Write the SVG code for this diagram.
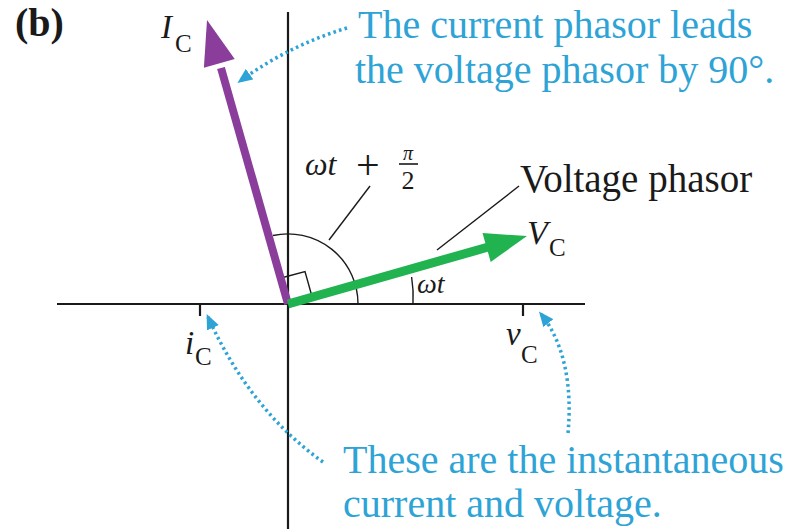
<svg xmlns="http://www.w3.org/2000/svg" width="800" height="529" viewBox="0 0 800 529">
<defs>
<style>
.ax{stroke:#1a1a1a;stroke-width:2.2;fill:none}
.thin{stroke:#1a1a1a;stroke-width:1.4;fill:none}
.dot{stroke:#2ea3d6;stroke-width:3.5;fill:none;stroke-dasharray:2.6 3.2}
.blk{fill:#1a1a1a}
.it{font-style:italic}
.blue{fill:#2ea3d6;font-size:40px}
</style>
<marker id="bh" viewBox="0 0 14 12" refX="11" refY="6" markerWidth="15" markerHeight="13" markerUnits="userSpaceOnUse" orient="auto">
<path d="M0,0 L14,6 L0,12 z" fill="#2ea3d6"/>
</marker>
</defs>
<rect width="800" height="529" fill="#ffffff"/>

<g id="axes">
<line class="ax" x1="288" y1="12" x2="288" y2="529"/>
<line class="ax" x1="57" y1="304" x2="585" y2="304"/>
<line class="ax" x1="200" y1="304" x2="200" y2="316"/>
<line class="ax" x1="523" y1="304" x2="523" y2="316"/>
</g>

<g id="angle-marks">
<path class="thin" d="M358,304 A70,70 0 0 0 273,235.5"/>
<path class="thin" d="M413,304 A125,125 0 0 0 411.6,277"/>
<polyline class="thin" points="281,278 305,271.5 312,296.5"/>
</g>

<g id="current-phasor">
<line x1="288" y1="304" x2="221" y2="68" stroke="#8a3d9a" stroke-width="8"/>
<polygon points="207,20 234.7,58.9 203.9,67.7" fill="#8a3d9a"/>
</g>

<g id="voltage-phasor">
<line x1="288" y1="304" x2="490" y2="246.5" stroke="#21b34f" stroke-width="9"/>
<polygon points="527,236 490.7,261.9 482.5,233.1" fill="#21b34f"/>
</g>

<g id="connectors">
<line class="thin" x1="329" y1="240" x2="370" y2="186"/>
<line class="thin" x1="437" y1="250" x2="519" y2="186"/>
<path class="dot" d="M347,28 Q290,45 240,81" marker-end="url(#bh)"/>
<path class="dot" d="M323,462 Q250,410 208,317" marker-end="url(#bh)"/>
<path class="dot" d="M568,433 C572,390 566,345 541,314" marker-end="url(#bh)"/>
</g>

<g font-family="'Liberation Serif', 'Times New Roman', 'DejaVu Serif', 'Noto Serif', serif">
<g id="label-b"><text class="blk" x="15" y="36" font-size="40" font-weight="bold">(b)</text></g>

<g id="label-IC"><text class="blk it" x="161" y="38" font-size="33">I</text><text class="blk" x="175" y="52" font-size="25">C</text></g>

<g id="label-VC"><text class="blk it" x="527" y="244" font-size="34">V</text><text class="blk" x="549" y="256" font-size="25">C</text></g>

<g id="label-iC"><text class="blk it" x="185" y="354" font-size="33">i</text><text class="blk" x="195" y="365" font-size="25">C</text></g>

<g id="label-vC"><text class="blk it" x="506" y="345" font-size="33">v</text><text class="blk" x="521" y="363" font-size="25">C</text></g>

<g id="label-wt-pi2">
<text class="blk it" x="305" y="175" font-size="32">ωt</text>
<text class="blk" x="356" y="179" font-size="42">+</text>
<text class="blk it" x="408" y="160" font-size="20" text-anchor="middle">π</text>
<line x1="399" y1="164" x2="418" y2="164" stroke="#1a1a1a" stroke-width="1.6"/>
<text class="blk" x="408" y="189" font-size="26" text-anchor="middle">2</text>
</g>

<g id="label-wt"><text class="blk it" x="417" y="293" font-size="28">ωt</text></g>

<g id="label-voltage-phasor"><text class="blk" x="520" y="192" font-size="39">Voltage phasor</text></g>

<g id="note-leads">
<text class="blue" x="358" y="38">The current phasor leads</text>
<text class="blue" x="355" y="83">the voltage phasor by 90°.</text>
</g>

<g id="note-instantaneous">
<text class="blue" x="343" y="473" font-size="40.7">These are the instantaneous</text>
<text class="blue" x="343" y="517">current and voltage.</text>
</g>
</g>
</svg>
